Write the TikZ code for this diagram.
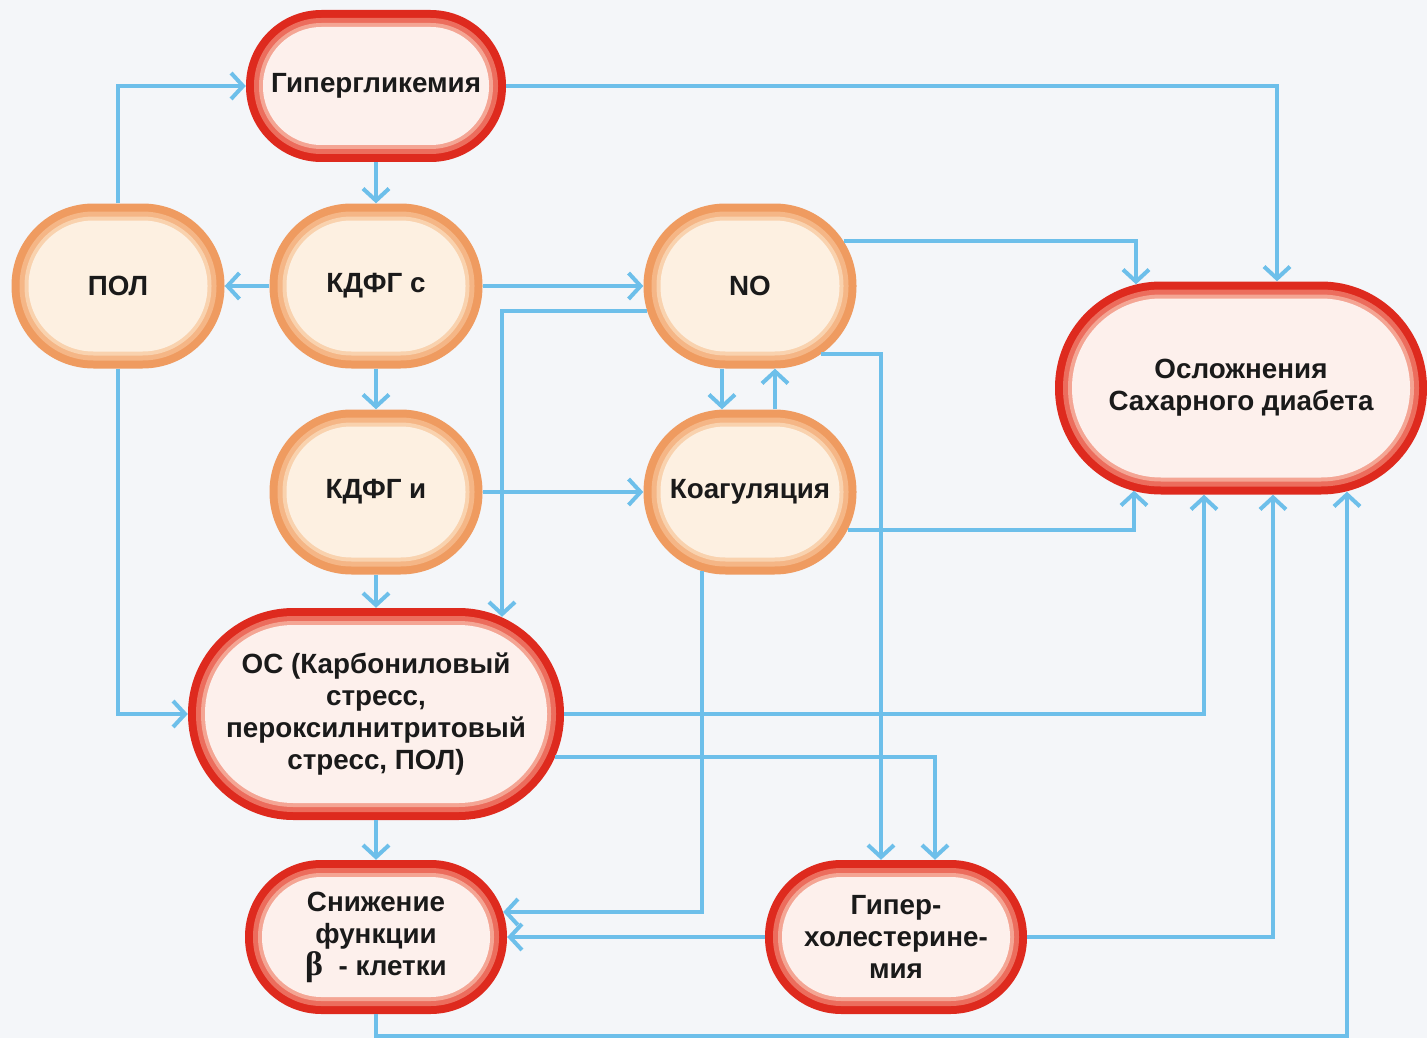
\documentclass[tikz,border=0pt]{standalone}
\usepackage{fontspec}
\setmainfont{Liberation Sans}
\newfontfamily\serifb{Liberation Serif}
\usetikzlibrary{arrows.meta,calc}
\definecolor{bg}{HTML}{F4F6F9}
\definecolor{Ra}{HTML}{DE2A1E}
\definecolor{Rb}{HTML}{EC6D5D}
\definecolor{Rc}{HTML}{F4A594}
\definecolor{Rd}{HTML}{FDF0EC}
\definecolor{Oa}{HTML}{EF9B60}
\definecolor{Ob}{HTML}{F5B686}
\definecolor{Oc}{HTML}{F9D2AE}
\definecolor{Od}{HTML}{FDF0E1}
\definecolor{lnk}{HTML}{6DBFEA}
\definecolor{txt}{HTML}{1A1A1A}
\tikzset{
  blobtext/.style={align=center,text=txt,font=\bfseries\fontsize{27.8}{32}\selectfont,inner sep=0pt},
  arr/.style={draw=lnk,line width=4pt,-{Straight Barb[length=12pt,width=26pt]}},
}
\newcommand\blob[7]{%
  \pgfmathsetmacro\bw{#4/2}\pgfmathsetmacro\bh{#5/2}%
  \foreach \d/\c in {0/#6a,8/#6b,13/#6c,17/#6d}{%
    \pgfmathsetmacro\rr{\bh-\d-0.5}%
    \fill[\c,rounded corners=\rr pt] (#2-\bw+\d,#3-\bh+\d) rectangle (#2+\bw-\d,#3+\bh-\d);
  }%
  \node[blobtext,minimum width=#4pt,minimum height=#5pt] (#1) at (#2,#3) {#7};
}
\begin{document}
\begin{tikzpicture}[x=1pt,y=-1pt]
\fill[bg] (0,0) rectangle (1427,1038);
\useasboundingbox (0,0) rectangle (1427,1038);
\blob{hyp}{376}{86}{260}{152}{R}{Гипергликемия}
\blob{pol}{118}{286}{213}{165}{O}{ПОЛ}
\blob{kc}{376}{286}{213}{165}{O}{КДФГ с}
\blob{no}{750}{286}{213}{165}{O}{NO}
\blob{ki}{376}{492}{213}{165}{O}{КДФГ и}
\blob{koa}{750}{492}{213}{165}{O}{Коагуляция}
\blob{os}{376}{714}{376}{212}{R}{ОС (Карбониловый\\стресс,\\пероксилнитритовый\\стресс, ПОЛ)}
\blob{sn}{376}{937}{262}{154}{R}{Снижение\\функции\\{\serifb\fontsize{34}{32}\selectfont β}\ \ - клетки}
\blob{gh}{896}{937}{262}{154}{R}{Гипер-\\холестерине-\\мия}
\blob{osl}{1241}{388}{372}{213}{R}{Осложнения\\Сахарного диабета}
% connectors
\draw[arr] (pol.north) |- (hyp.west);
\draw[arr] (hyp.east) -| ($(osl.north)+(36,0)$);
\draw[arr] (hyp.south) -- (kc.north);
\draw[arr] (kc.west) -- (pol.east);
\draw[arr] (kc.east) -- (no.west);
\draw[arr] (kc.south) -- (ki.north);
\draw[arr] ($(no.west)+(4,25)$) -| ($(os.north)+(126,9)$);
\draw[arr] ($(no.east)+(-13,-45)$) -| ($(osl.north)+(-105,3)$);
\draw[arr] ($(no.east)+(-36,68)$) -| ($(gh.north)+(-15,0)$);
\draw[arr] ($(no.south)+(-28,0)$) -- ($(koa.north)+(-28,0)$);
\draw[arr] ($(koa.north)+(25,0)$) -- ($(no.south)+(25,0)$);
\draw[arr] (ki.east) -- (koa.west);
\draw[arr] (ki.south) -- (os.north);
\draw[arr] ($(koa.east)+(-9,38)$) -| ($(osl.south)+(-107,-4)$);
\draw[arr] ($(koa.south)+(-48,-4)$) |- ($(sn.east)+(-4,-25)$);
\draw[arr] (pol.south) |- (os.west);
\draw[arr] (os.east) -| ($(osl.south)+(-37,0)$);
\draw[arr] ($(os.east)+(-9,43)$) -| ($(gh.north)+(39,0)$);
\draw[arr] (os.south) -- (sn.north);
\draw[arr] (gh.west) -- (sn.east);
\draw[arr] (gh.east) -| ($(osl.south)+(32,0)$);
\draw[arr] (sn.south) -- ($(sn.south)+(0,22)$) -| ($(osl.south)+(106,-3)$);
\end{tikzpicture}
\end{document}
